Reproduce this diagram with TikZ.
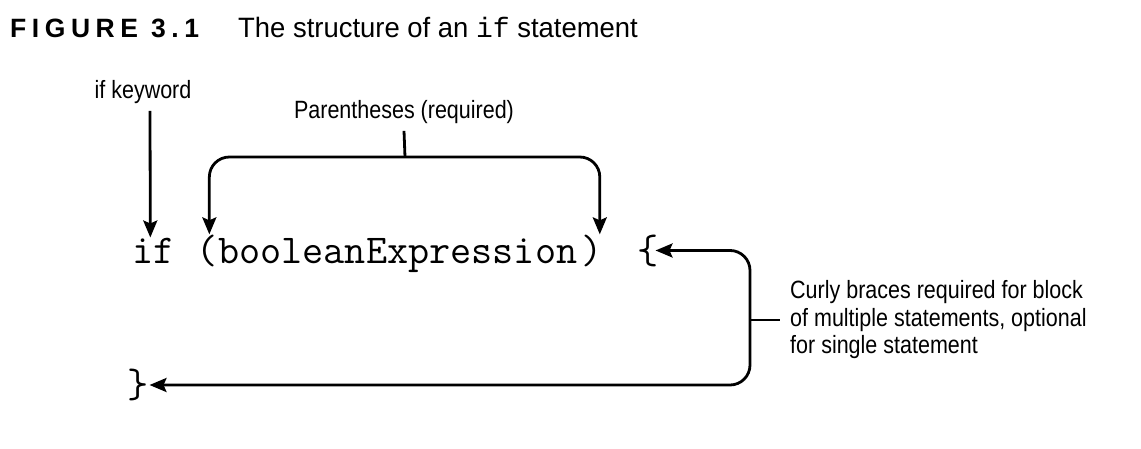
\documentclass[tikz,border=0pt]{standalone}
\usepackage{fontspec}
\setmainfont{Liberation Sans}[FakeStretch=0.86]
\newfontfamily\capfont{Liberation Sans}[FakeStretch=0.98]
\newfontfamily\figfont{Liberation Sans}[LetterSpace=21]
\newfontfamily\titlemono{Liberation Mono}
\usetikzlibrary{arrows.meta}
\begin{document}
\begin{tikzpicture}[x=1pt,y=-1pt,
  conn/.style={line width=2.8pt, line join=round},
  arr/.style={conn, -{Stealth[length=17pt,width=14pt,inset=3pt]}},
  darr/.style={conn, {Stealth[length=17pt,width=14pt,inset=3pt]}-{Stealth[length=17pt,width=14pt,inset=3pt]}},
  code/.style={inner sep=0pt, anchor=base west, font=\fontsize{41}{41}\ttfamily},
  lbl/.style={inner sep=0pt, font=\fontsize{25}{27.5}\selectfont},
  ttl/.style={inner sep=0pt, anchor=base west}]
\useasboundingbox (0,0) rectangle (1141,448);
% title
\node[ttl, font=\fontsize{26.5}{26.5}\figfont\bfseries] (fig) at (10,37) {FIGURE 3.1};
\node[ttl, font=\fontsize{28}{28}\capfont] (cap) at (238,37) {The structure of an {\titlemono if} statement};
% code
\def\adv{21.525}
\node[code] (kwif) at (132,263) {if};
\node[code] (lpar) at (132+3*\adv,263) {(};
\node[code] (expr) at (132+4*\adv,263) {booleanExpression};
\node[code] (rpar) at (129+21*\adv,263) {)};
\node[code] (lbrace) at (637,263) {\{};
\node[code, anchor=west] (rbrace) at (127,385) {\}};
% labels
\node[lbl] (kwlbl) at (143,92) {if keyword};
\node[lbl] (parlbl) at (404,112) {Parentheses (required)};
\node[lbl, anchor=west, align=left, inner xsep=10pt] (curly) at (780,320)
  {Curly braces required for block\\of multiple statements, optional\\for single statement};
% connectors
\coordinate (ptop) at (405,157);
\coordinate (rail) at (750,320);
\draw[arr] (kwlbl.south -| 150,0) ++(0,7) -- ([xshift=-3pt]kwif.north);
\draw[darr, rounded corners=20pt] ([xshift=2pt]lpar.north) |- (ptop) -| ([xshift=8pt]rpar.north);
\draw[conn] ([yshift=-7pt]parlbl.south) -- (ptop);
\draw[darr, rounded corners=20pt] ([xshift=-3pt]lbrace.east) -| (rail) |- ([xshift=1pt]rbrace.east);
\draw[conn] (rail) -- (curly.west);
\end{tikzpicture}
\end{document}
